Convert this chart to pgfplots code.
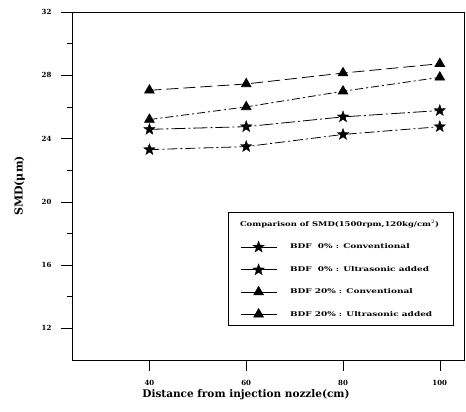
\documentclass[border=0pt]{standalone}
\usepackage{fontspec}
\setmainfont{DejaVu Serif}
\newfontfamily\legfont[FakeStretch=1.38]{DejaVu Serif}
\newfontfamily\titfont[FakeStretch=1.3]{DejaVu Serif}
\usepackage{pgfplots}
\pgfplotsset{compat=1.18}
\pgfdeclareplotmark{fstar}{%
  \pgfpathmoveto{\pgfqpointpolar{90}{1.1\pgfplotmarksize}}%
  \pgfpathlineto{\pgfqpointpolar{126}{0.45\pgfplotmarksize}}%
  \pgfpathlineto{\pgfqpointpolar{162}{1.1\pgfplotmarksize}}%
  \pgfpathlineto{\pgfqpointpolar{198}{0.45\pgfplotmarksize}}%
  \pgfpathlineto{\pgfqpointpolar{234}{1.1\pgfplotmarksize}}%
  \pgfpathlineto{\pgfqpointpolar{270}{0.45\pgfplotmarksize}}%
  \pgfpathlineto{\pgfqpointpolar{306}{1.1\pgfplotmarksize}}%
  \pgfpathlineto{\pgfqpointpolar{342}{0.45\pgfplotmarksize}}%
  \pgfpathlineto{\pgfqpointpolar{18}{1.1\pgfplotmarksize}}%
  \pgfpathlineto{\pgfqpointpolar{54}{0.45\pgfplotmarksize}}%
  \pgfpathclose
  \pgfusepathqfillstroke}
\begin{document}
\begin{tikzpicture}[x=1pt,y=1pt]
\begin{axis}[
  at={(0pt,0pt)}, anchor=south west,
  scale only axis, width=392pt, height=348pt,
  xmin=24, xmax=105, ymin=10, ymax=32,
  xtick={40,60,80,100}, ytick={12,16,20,24,28,32},
  minor y tick num=1,
  xtick pos=bottom, ytick pos=left,
  tick align=outside,
  major tick length=11pt, minor tick length=5pt,
  tick style={black, line width=0.6pt},
  axis line style={line width=0.8pt},
  /pgf/number format/assume math mode=true,
  ticklabel style={font=\fontsize{7}{8}\selectfont\bfseries},
  xticklabel style={yshift=-6pt},
  yticklabel style={xshift=-6pt},
  xlabel={Distance from injection nozzle(cm)},
  xlabel style={font=\fontsize{10.5}{12}\selectfont\bfseries, yshift=3pt, xshift=-22pt},
  ylabel={SMD(μm)},
  ylabel style={font=\fontsize{11}{12}\selectfont\bfseries, yshift=10pt},
  legend style={at={(0.398,0.425)}, anchor=north west, draw=black, thin,
    font=\fontsize{6.5}{8}\selectfont\legfont\bfseries, row sep=11.5pt,
    inner xsep=12pt, inner ysep=6pt,
    /tikz/every odd column/.append style={column sep=11pt}},
  legend cell align=left,
  legend image code/.code={%
    \draw[solid,mark repeat=2,mark phase=2] plot coordinates {(0pt,0pt) (18pt,0pt) (36pt,0pt)};},
  every axis plot/.append style={black, line width=0.8pt},
]
\addlegendimage{empty legend}
\addlegendentry{\hspace{-50pt}\titfont\bfseries Comparison of SMD(1500rpm,120kg/cm$^2$)}
\addplot[dash pattern=on 14pt off 3pt on 2pt off 3pt, mark=fstar, mark size=5.5pt, mark options={solid, fill=black, line width=0.3pt}] coordinates {(40,24.58) (60,24.75) (80,25.37) (100,25.77)};
\addlegendentry{BDF\ \ 0\% : Conventional}
\addplot[dash pattern=on 10pt off 3pt on 2pt off 3pt, mark=fstar, mark size=5.5pt, mark options={solid, fill=black, line width=0.3pt}] coordinates {(40,23.30) (60,23.49) (80,24.26) (100,24.75)};
\addlegendentry{BDF\ \ 0\% : Ultrasonic added}
\addplot[dash pattern=on 12pt off 5pt, mark=triangle*, mark size=5.5pt, mark options={solid, fill=black}] coordinates {(40,27.05) (60,27.45) (80,28.14) (100,28.73)};
\addlegendentry{BDF 20\% : Conventional}
\addplot[dash pattern=on 8pt off 3pt on 2pt off 3pt, mark=triangle*, mark size=5.5pt, mark options={solid, fill=black}] coordinates {(40,25.20) (60,26.00) (80,26.99) (100,27.87)};
\addlegendentry{BDF 20\% : Ultrasonic added}
\end{axis}
\pgfresetboundingbox
\path[use as bounding box] (-72pt,-52pt) rectangle (394pt,360pt);
\end{tikzpicture}
\end{document}
